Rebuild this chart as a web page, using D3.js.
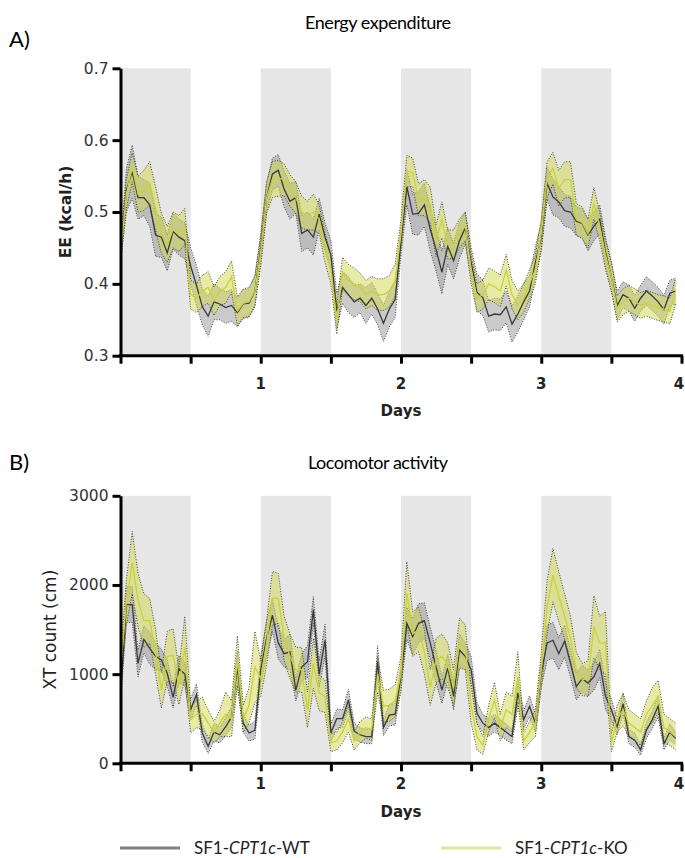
<!DOCTYPE html>
<html>
<head>
<meta charset="utf-8">
<script src="https://cdn.jsdelivr.net/npm/d3@7"></script>
<style>
  body { margin: 0; background: #fff; }
  svg { display: block; }
  .axis path, .axis line { stroke: #000; stroke-width: 3; }
  .axis text { fill: #333; }
</style>
</head>
<body>
<div id="chart"></div>
<script>
// hourly samples over 4 days
const hours = d3.range(0, 96);
const darkPhases = [0, 1, 2, 3];   // day starts of the shaded half-days
const xTicks = [0, 0.5, 1, 1.5, 2, 2.5, 3, 3.5, 4];
const eeTicks = [0.3, 0.4, 0.5, 0.6, 0.7];
const laTicks = [0, 1000, 2000, 3000];

const eeWT = [0.44,0.53,0.556,0.52,0.52,0.51,0.468,0.465,0.443,0.473,0.465,0.46,0.425,0.398,0.368,0.355,0.375,0.372,0.367,0.37,0.36,0.372,0.373,0.39,
  0.45,0.52,0.553,0.558,0.532,0.515,0.52,0.47,0.475,0.465,0.497,0.465,0.44,0.362,0.395,0.385,0.375,0.38,0.37,0.38,0.365,0.345,0.365,0.378,
  0.46,0.535,0.497,0.498,0.51,0.476,0.448,0.416,0.452,0.432,0.46,0.478,0.43,0.388,0.381,0.355,0.358,0.357,0.368,0.344,0.358,0.375,0.39,0.43,
  0.465,0.54,0.521,0.514,0.502,0.5,0.487,0.484,0.468,0.48,0.49,0.444,0.41,0.37,0.385,0.38,0.366,0.38,0.39,0.383,0.375,0.364,0.387,0.39];
const eeKO = [0.44,0.525,0.562,0.525,0.53,0.54,0.505,0.47,0.455,0.475,0.47,0.48,0.385,0.38,0.39,0.395,0.376,0.39,0.395,0.41,0.362,0.373,0.375,0.39,
  0.445,0.52,0.545,0.547,0.545,0.53,0.52,0.5,0.495,0.5,0.49,0.45,0.42,0.35,0.415,0.405,0.4,0.395,0.385,0.39,0.385,0.385,0.39,0.405,
  0.47,0.557,0.555,0.517,0.52,0.51,0.46,0.489,0.455,0.455,0.47,0.48,0.42,0.38,0.385,0.4,0.396,0.39,0.419,0.385,0.37,0.38,0.4,0.42,
  0.47,0.545,0.561,0.533,0.545,0.545,0.49,0.485,0.47,0.512,0.48,0.44,0.41,0.365,0.375,0.38,0.375,0.37,0.373,0.37,0.367,0.365,0.362,0.39];
const eeWTsem = [0.01,0.03,0.037,0.03,0.025,0.03,0.03,0.028,0.025,0.025,0.025,0.025,0.025,0.028,0.025,0.028,0.025,0.022,0.022,0.022,0.02,0.02,0.02,0.022,
  0.02,0.02,0.022,0.022,0.025,0.025,0.022,0.025,0.025,0.025,0.022,0.02,0.02,0.025,0.022,0.025,0.022,0.02,0.025,0.022,0.022,0.025,0.025,0.025,
  0.02,0.025,0.028,0.03,0.03,0.03,0.03,0.03,0.025,0.025,0.025,0.022,0.02,0.025,0.025,0.022,0.022,0.022,0.022,0.025,0.025,0.025,0.022,0.022,
  0.02,0.022,0.025,0.022,0.022,0.022,0.02,0.02,0.022,0.02,0.02,0.02,0.02,0.02,0.018,0.018,0.018,0.018,0.02,0.02,0.02,0.02,0.018,0.018];
const eeKOsem = [0.01,0.02,0.02,0.025,0.028,0.03,0.03,0.028,0.025,0.025,0.025,0.025,0.02,0.02,0.022,0.022,0.02,0.02,0.022,0.022,0.02,0.02,0.02,0.02,
  0.02,0.022,0.025,0.025,0.022,0.022,0.022,0.022,0.02,0.025,0.02,0.02,0.02,0.02,0.022,0.022,0.022,0.02,0.02,0.02,0.022,0.022,0.022,0.022,
  0.02,0.022,0.02,0.022,0.025,0.025,0.022,0.025,0.02,0.02,0.02,0.02,0.02,0.02,0.02,0.022,0.022,0.022,0.022,0.02,0.02,0.02,0.02,0.02,
  0.02,0.025,0.022,0.025,0.025,0.025,0.022,0.022,0.02,0.022,0.02,0.02,0.02,0.018,0.018,0.018,0.018,0.018,0.018,0.018,0.018,0.018,0.018,0.018];

const laWT = [750,1780,1780,1120,1390,1290,1200,1160,1010,740,1060,1000,600,770,340,190,350,320,410,520,1080,450,340,370,
  1050,1400,1660,1350,1230,1250,820,1080,1140,1720,1000,1380,340,500,500,710,360,320,300,300,1140,400,540,550,
  980,1570,1420,1570,1600,1350,1080,820,1070,750,1270,1200,1050,560,450,400,450,400,350,300,790,490,640,450,
  1010,1350,1380,1230,1370,1120,860,950,900,970,1120,750,600,410,670,300,260,150,370,490,640,220,350,280];
const laKO = [1050,1800,2250,1830,1600,1600,1250,820,1200,1210,860,1300,490,550,560,450,350,450,550,500,1150,500,650,1080,
  950,1350,1850,1850,1400,1200,1050,1050,600,1120,790,750,230,250,350,500,250,350,400,380,1000,640,650,700,
  1000,1910,1450,1500,1250,850,1150,1200,1100,850,1350,1300,650,300,200,500,710,400,600,550,970,250,350,450,
  1050,1750,2110,1870,1650,1400,1050,940,950,1530,1350,1350,230,500,600,450,400,350,550,650,750,400,350,300];
const laWTsem = [100,200,200,150,150,180,150,120,150,120,150,130,120,120,100,80,100,90,100,120,180,100,90,100,
  150,200,180,180,150,200,120,150,180,150,150,180,100,110,100,120,90,80,80,80,180,90,120,120,
  120,180,200,220,200,180,180,150,150,150,180,150,150,120,100,100,100,90,90,80,150,100,120,100,
  150,200,200,180,180,150,150,150,150,150,160,150,120,90,120,80,80,60,90,100,120,70,90,70];
const laKOsem = [150,250,350,300,300,250,250,200,280,300,200,350,150,150,180,150,120,150,250,200,280,150,200,400,
  200,250,300,280,250,250,250,250,200,280,200,180,100,100,120,150,100,120,120,120,200,180,180,180,
  200,350,250,250,250,200,250,250,250,200,280,250,200,150,100,150,200,150,200,200,280,100,120,150,
  200,300,300,280,250,250,200,180,200,350,300,350,100,150,180,150,150,150,150,200,180,150,150,150];

const width = 685, height = 858;
const svg = d3.select('#chart').append('svg')
  .attr('width', width)
  .attr('height', height);

const x = d3.scaleLinear().domain([0, 4]).range([120.5, 681.5]);

const panels = [
  {
    letter: 'A)', title: 'Energy expenditure', label: 'EE (kcal/h)', labelBold: true,
    y: d3.scaleLinear().domain([0.3, 0.7]).range([355.7, 68.3]),
    ticks: eeTicks, fmt: d3.format('.1f'),
    wt: eeWT, ko: eeKO, wtSem: eeWTsem, koSem: eeKOsem,
    titleY: 29, letterY: 47, labelX: 66, tickLabelY: 389, daysY: 416
  },
  {
    letter: 'B)', title: 'Locomotor activity', label: 'XT count (cm)', labelBold: false,
    y: d3.scaleLinear().domain([0, 3000]).range([763.3, 495.8]),
    ticks: laTicks, fmt: d => d,
    wt: laWT, ko: laKO, wtSem: laWTsem, koSem: laKOsem,
    titleY: 469, letterY: 470, labelX: 50, tickLabelY: 789, daysY: 817
  }
];

panels.forEach(p => drawPanel(p));

function drawPanel(p) {
  const g = svg.append('g');
  const y = p.y;
  const [y0, y1] = y.range();

  g.append('text')
    .attr('x', 9).attr('y', p.letterY)
    .style('font-family', 'Lato').style('font-size', '22px')
    .text(p.letter);

  g.append('text')
    .attr('x', 378).attr('y', p.titleY)
    .attr('text-anchor', 'middle')
    .style('font-family', 'Lato').style('font-size', '18px')
    .attr('textLength', p.title === 'Energy expenditure' ? 146 : 140)
    .text(p.title);

  // dark-phase shading
  g.selectAll('rect.night')
    .data(darkPhases)
    .join('rect')
    .attr('class', 'night')
    .attr('x', d => x(d))
    .attr('width', d => x(d + 0.5) - x(d))
    .attr('y', y1)
    .attr('height', y0 - y1)
    .attr('fill', '#e6e6e6');

  const series = [
    { mean: p.wt, sem: p.wtSem, fill: '#8a8a8a', fillOp: 0.45, line: '#3a3a3a' },
    { mean: p.ko, sem: p.koSem, fill: '#d0d84c', fillOp: 0.5, line: '#c8d23a' }
  ];

  series.forEach(s => {
    const pts = hours.map((h, i) => ({ day: h / 24, m: s.mean[i], e: s.sem[i] }));
    g.append('path')
      .datum(pts)
      .attr('fill', s.fill)
      .attr('fill-opacity', s.fillOp)
      .attr('d', d3.area().x(d => x(d.day)).y0(d => y(d.m - d.e)).y1(d => y(d.m + d.e)));
    [1, -1].forEach(sign => {
      g.append('path')
        .datum(pts)
        .attr('fill', 'none')
        .attr('stroke', '#333')
        .attr('stroke-width', 0.9)
        .attr('stroke-dasharray', '1,1.6')
        .attr('d', d3.line().x(d => x(d.day)).y(d => y(d.m + sign * d.e)));
    });
  });

  series.forEach(s => {
    const pts = hours.map((h, i) => ({ day: h / 24, m: s.mean[i] }));
    g.append('path')
      .datum(pts)
      .attr('fill', 'none')
      .attr('stroke', s.line)
      .attr('stroke-width', 1.3)
      .attr('d', d3.line().x(d => x(d.day)).y(d => y(d.m)));
  });

  // axes
  const yAxis = g.append('g')
    .attr('class', 'axis')
    .attr('transform', `translate(${x(0)},0)`)
    .call(d3.axisLeft(y).tickValues(p.ticks).tickFormat(p.fmt).tickSize(8).tickSizeOuter(0).tickPadding(4));
  yAxis.selectAll('text')
    .style('font-family', 'DejaVu Sans').style('font-size', '15.5px');

  const xAxis = g.append('g')
    .attr('class', 'axis')
    .attr('transform', `translate(0,${y0})`)
    .call(d3.axisBottom(x).tickValues(xTicks)
      .tickFormat(d => (Number.isInteger(d) && d > 0) ? d : '')
      .tickSize(8).tickSizeOuter(0));
  xAxis.selectAll('text').remove();
  xAxis.selectAll('path.domain').attr('d', `M${x(0) - 1.5},0H${x(4) + 1.5}`);

  g.selectAll('text.xtick')
    .data(xTicks.filter(d => Number.isInteger(d) && d > 0))
    .join('text')
    .attr('class', 'xtick')
    .attr('x', d => Math.min(x(d), 679))
    .attr('y', p.tickLabelY)
    .attr('text-anchor', 'middle')
    .style('font-family', 'DejaVu Sans').style('font-size', '15px').style('font-weight', 'bold')
    .attr('fill', '#222')
    .text(d => d);

  g.append('text')
    .attr('x', x(2)).attr('y', p.daysY)
    .attr('text-anchor', 'middle')
    .style('font-family', 'DejaVu Sans').style('font-size', '15px').style('font-weight', 'bold')
    .attr('fill', '#222')
    .text('Days');

  g.append('text')
    .attr('transform', `translate(${p.labelX},${(y0 + y1) / 2}) rotate(-90)`)
    .attr('text-anchor', 'middle')
    .attr('dy', '0.35em')
    .style('font-family', 'DejaVu Sans')
    .style('font-size', p.labelBold ? '15.5px' : '17px')
    .style('font-weight', p.labelBold ? 'bold' : 'normal')
    .attr('fill', '#222')
    .text(p.label);
}

// legend
const legendItems = [
  { pre: 'SF1-', gene: 'CPT1c', post: '-WT', color: '#808080', x: 120 },
  { pre: 'SF1-', gene: 'CPT1c', post: '-KO', color: '#e0e69c', x: 441 }
];
const legend = svg.append('g');
legendItems.forEach(item => {
  legend.append('line')
    .attr('x1', item.x).attr('x2', item.x + 60)
    .attr('y1', 848).attr('y2', 848)
    .attr('stroke', item.color).attr('stroke-width', 3);
  const t = legend.append('text')
    .attr('x', item.x + 74).attr('y', 854)
    .style('font-family', 'Lato').style('font-size', '17px')
    .attr('fill', '#222');
  t.append('tspan').text(item.pre);
  t.append('tspan').style('font-style', 'italic').text(item.gene);
  t.append('tspan').text(item.post);
});
</script>
</body>
</html>
